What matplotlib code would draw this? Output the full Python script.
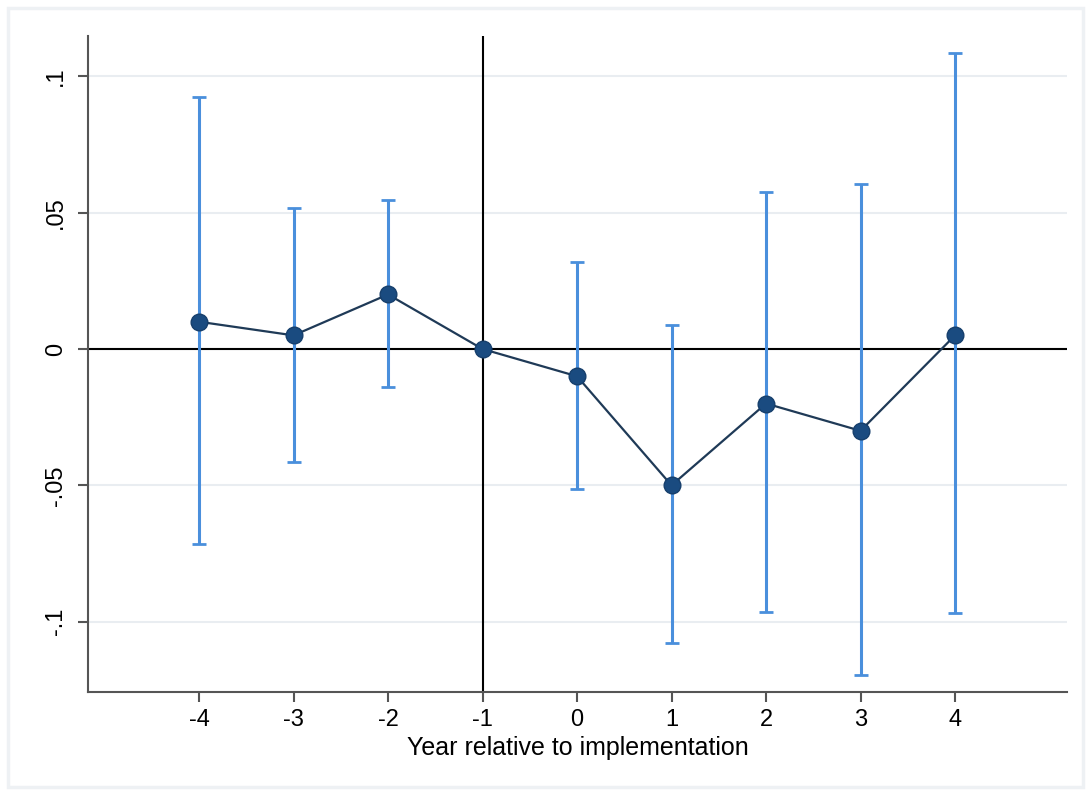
import matplotlib
matplotlib.use("Agg")
import matplotlib.pyplot as plt
from matplotlib.patches import Rectangle

years = [-4, -3, -2, -1, 0, 1, 2, 3, 4]
coef = [0.010, 0.005, 0.020, 0.0, -0.010, -0.050, -0.020, -0.030, 0.005]
ci_low = [-0.0715, -0.0415, -0.014, None, -0.0514, -0.108, -0.0965, -0.1196, -0.0968]
ci_high = [0.0924, 0.0517, 0.0547, None, 0.0319, 0.0088, 0.0576, 0.0605, 0.1086]
yticks = [-0.1, -0.05, 0, 0.05, 0.1]
yticklabels = ["-.1", "-.05", "0", ".05", ".1"]
xlabel = "Year relative to implementation"

plt.rcParams['font.family'] = ['Liberation Sans', 'DejaVu Sans']

fig = plt.figure(figsize=(10.86, 7.95), dpi=100)
fig.patches.append(Rectangle((0.007, 0.01), 0.990, 0.98, transform=fig.transFigure,
                             fill=False, edgecolor="#eef1f4", linewidth=2.5))
ax = fig.add_axes([88/1086, 1 - 692/795, (1067-88)/1086, (692-36)/795])

ax.set_xlim(-5.175, 5.185)
ax.set_ylim(-0.1258, 0.1148)

for t in yticks:
    ax.axhline(t, color="#e9edf1", linewidth=1.5, zorder=0)

ax.axhline(0, color="black", linewidth=1.5, zorder=1)
ax.axvline(-1, color="black", linewidth=1.5, zorder=1)

ex = [x for x, l in zip(years, ci_low) if l is not None]
ey = [c for c, l in zip(coef, ci_low) if l is not None]
lo = [c - l for c, l in zip(coef, ci_low) if l is not None]
hi = [h - c for c, h in zip(coef, ci_high) if h is not None]
ax.errorbar(ex, ey, yerr=[lo, hi], fmt="none", ecolor="#4a8fdc",
            elinewidth=2.2, capsize=4.8, capthick=2.0, zorder=2)

ax.plot(years, coef, color="#1f3a57", linewidth=1.6, zorder=3)
ax.plot(years, coef, "o", color="#1a4b80", markersize=12, zorder=4,
        markeredgecolor="#163f6c", markeredgewidth=1)

ax.set_xticks(years)
ax.set_xticklabels([str(y) for y in years], fontsize=17)
ax.set_yticks(yticks)
ax.set_yticklabels(yticklabels, fontsize=17, rotation=90, va="center")
ax.set_xlabel(xlabel, fontsize=18, labelpad=4)

for s in ["top", "right"]:
    ax.spines[s].set_visible(False)
for s in ["left", "bottom"]:
    ax.spines[s].set_color("#555555")
    ax.spines[s].set_linewidth(1.5)
ax.tick_params(axis="both", colors="#555555", width=1.5, length=7, labelcolor="black")
ax.tick_params(axis="y", pad=8)
ax.tick_params(axis="x", pad=5)

fig.savefig("out.png", dpi=100, facecolor="white")
